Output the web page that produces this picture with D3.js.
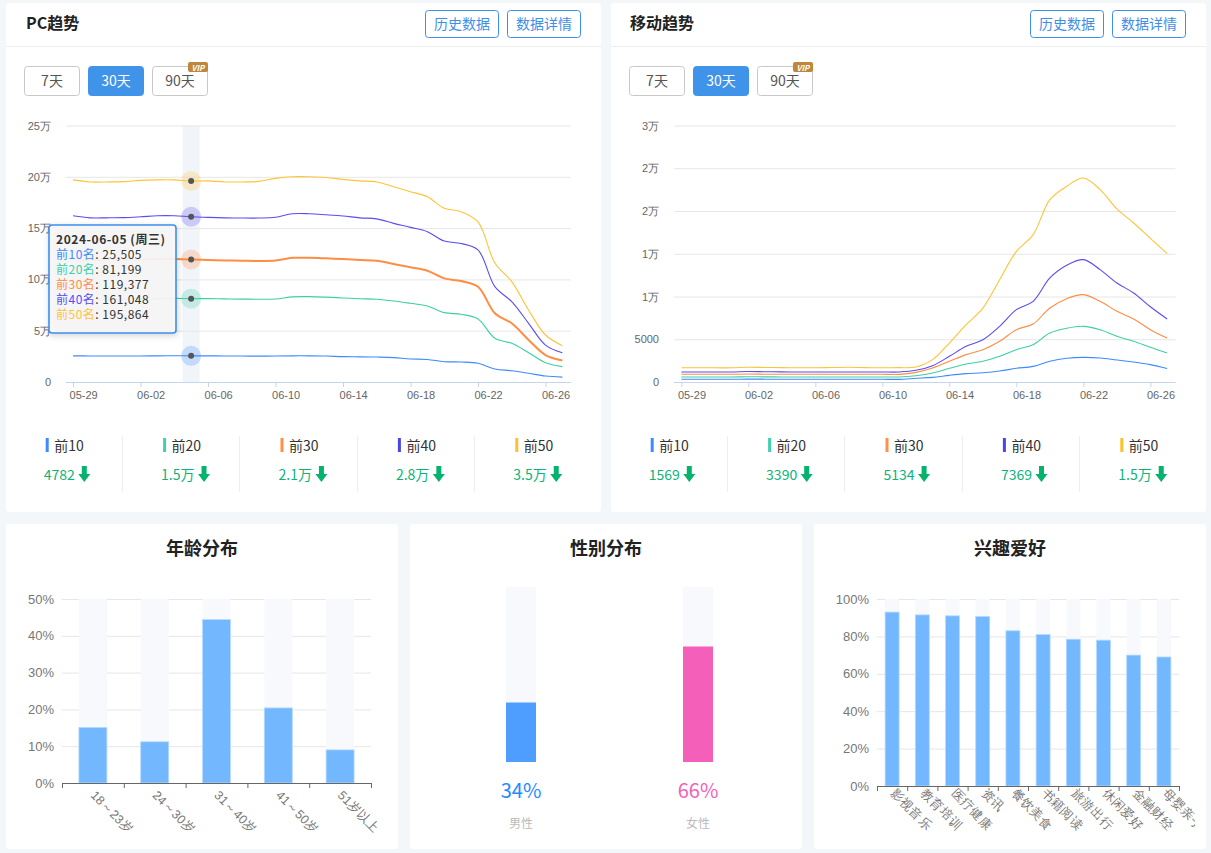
<!DOCTYPE html>
<html>
<head>
<meta charset="utf-8">
<script src="https://cdn.jsdelivr.net/npm/d3@7"></script>
<style>
html, body { margin: 0; padding: 0; background: #f3f7fa; overflow: hidden; }
svg { display: block; font-family: "Noto Sans CJK SC", "Noto Sans", sans-serif; }
text { fill: #333; }
.grid line { stroke: #e6e6e6; }
.grid path { display: none; }
</style>
</head>
<body>
<svg id="page" width="1211" height="853"></svg>
<script>
var svg = d3.select('#page');

var colors = ['#3e8bff', '#3ccfa8', '#ff8d42', '#5a4cf2', '#ffc336'];
var barColors = ['#3e8bff', '#3fd1ad', '#ff9147', '#4a46e8', '#ffc02e'];
var names = ['前10名', '前20名', '前30名', '前40名', '前50名'];
var shortNames = ['前10', '前20', '前30', '前40', '前50'];

var days = d3.timeDay.range(new Date(2024, 4, 29), new Date(2024, 5, 28)).map(d3.timeFormat('%m-%d'));

var pcData = [
  [25500,25400,25300,25300,25400,25500,25600,25505,25500,25400,25300,25200,25300,25500,25500,25300,24700,24500,24300,23800,22400,22000,19800,19500,18200,12700,11000,8500,5800,4782],
  [81500,80800,80700,80800,81000,81300,81500,81199,81300,81000,80800,80700,80900,83000,83200,82700,81900,81200,80600,79000,76700,74100,67600,66000,61400,42600,37700,28600,18800,15000],
  [120000,119000,119000,119200,119500,120000,120000,119377,119000,118500,118200,118000,118500,121000,121000,120500,119900,118900,118200,115000,111800,108500,101000,98400,92900,67000,57200,41000,26300,21000],
  [162000,160000,160000,160200,161000,162000,162000,161048,160500,160000,159800,159800,160500,164000,164000,163000,161800,160000,159000,154600,150700,146500,137400,135000,128700,92900,78300,57200,36000,28500],
  [197000,195000,195000,195300,196500,197000,197000,195864,196000,195000,195000,195500,198500,200000,200000,199300,197500,196000,195000,190300,185500,180600,169300,166000,156000,116000,97800,70000,45800,35400]
];
var mobileData = [
  [320,320,320,320,340,330,320,320,320,320,320,320,320,312,430,545,780,975,1090,1290,1600,1830,2420,2770,2885,2810,2570,2340,2030,1569],
  [590,590,590,590,610,600,590,590,590,590,590,590,590,585,740,1053,1600,2105,2420,3000,3780,4370,5730,6280,6510,6120,5340,4760,4055,3390],
  [900,900,900,900,930,910,900,900,900,900,900,900,900,897,1130,1640,2420,3200,3780,4760,6120,6785,8660,9750,10215,9435,8270,7370,6120,5134],
  [1170,1170,1170,1170,1230,1200,1180,1170,1170,1170,1170,1170,1170,1170,1365,1910,3000,4170,4950,6510,8460,9435,12165,13650,14310,13140,11580,10410,8800,7369],
  [1660,1660,1660,1660,1730,1700,1680,1670,1670,1690,1720,1680,1670,1677,1755,2612,4560,6700,8650,11970,15280,17230,21330,22890,23860,22500,20240,18600,16800,15010]
];
var pcTips = [25505, 81199, 119377, 161048, 195864];

function panel(x, y, w, h) {
  svg.append('rect').attr('x', x).attr('y', y).attr('width', w).attr('height', h)
    .attr('rx', 3).attr('fill', '#fff');
}

function button(x, y, w, h, label, opts) {
  opts = opts || {};
  svg.append('rect').attr('x', x + 0.5).attr('y', y + 0.5).attr('width', w - 1).attr('height', h - 1)
    .attr('rx', 3)
    .attr('fill', opts.fill || '#fff')
    .attr('stroke', opts.stroke || '#c8c8c8');
  svg.append('text').attr('x', x + w / 2).attr('y', y + h / 2 + 5)
    .attr('text-anchor', 'middle').attr('font-size', 14)
    .style('fill', opts.color || '#555').text(label);
}

function trendPanel(ox, title, data, opts) {
  panel(ox, 3, 595, 509);
  svg.append('line').attr('x1', ox).attr('x2', ox + 595).attr('y1', 46.5).attr('y2', 46.5).attr('stroke', '#eeeeee');
  svg.append('text').attr('x', ox + opts.titleDx).attr('y', 29).attr('font-size', 16).attr('font-weight', 'bold').style('fill', '#222').text(title);

  button(ox + 419, 10, 74, 28, '历史数据', {stroke: '#3e8fe8', color: '#3e8fe8'});
  button(ox + 501, 10, 74, 28, '数据详情', {stroke: '#3e8fe8', color: '#3e8fe8'});

  button(ox + 18, 66, 56, 30, '7天');
  button(ox + 82, 66, 56, 30, '30天', {fill: '#3f93e8', stroke: '#3f93e8', color: '#fff'});
  button(ox + 146, 66, 56, 30, '90天');
  svg.append('rect').attr('x', ox + 182).attr('y', 62).attr('width', 20).attr('height', 10).attr('rx', 2).attr('fill', '#c0873a');
  svg.append('text').attr('x', ox + 192).attr('y', 70.5).attr('text-anchor', 'middle')
    .attr('font-size', 8).attr('font-weight', 'bold').attr('font-style', 'italic').style('fill', '#fff').text('VIP');

  var x = d3.scaleBand().domain(days).range(opts.xRange).paddingInner(0).paddingOuter(0);
  var y = d3.scaleLinear().domain([0, opts.yMax]).range([382, 125.5]);
  var cx = function(d) { return x(d) + x.bandwidth() / 2; };

  // highlighted day band sits under the grid
  if (opts.hover !== undefined) {
    svg.append('rect').attr('x', x(days[opts.hover])).attr('y', y(opts.yMax))
      .attr('width', x.bandwidth()).attr('height', y(0) - y(opts.yMax)).attr('fill', '#f1f4f9');
  }

  var grid = svg.append('g').attr('class', 'grid')
    .attr('transform', 'translate(' + opts.gridLeft + ',0)')
    .call(d3.axisLeft(y).tickValues(opts.yTicks).tickSize(-(opts.xRange[1] - opts.gridLeft)).tickPadding(opts.gridLeft - opts.labelRight).tickFormat(opts.yFormat));
  grid.selectAll('text').attr('font-size', 11).style('fill', '#666');

  var ax = svg.append('g').attr('transform', 'translate(0,382)')
    .call(d3.axisBottom(d3.scalePoint().domain(days).range([cx(days[0]), cx(days[29])]))
      .tickValues(days.filter(function(d, i) { return i % 4 == 0; })).tickSize(5).tickPadding(4));
  ax.select('path').remove();
  ax.selectAll('line').attr('stroke', '#c6d4ec');
  ax.selectAll('text').attr('font-size', 11).attr('text-anchor', 'start').attr('dx', -4).style('fill', '#666');
  svg.append('line').attr('x1', opts.gridLeft).attr('x2', opts.xRange[1]).attr('y1', 382.5).attr('y2', 382.5).attr('stroke', '#c6d4ec');

  var line = d3.line()
    .x(function(d, i) { return cx(days[i]); })
    .y(function(d) { return y(d); })
    .curve(d3.curveCatmullRom.alpha(0.5));

  data.forEach(function(series, s) {
    svg.append('path').attr('d', line(series)).attr('fill', 'none')
      .attr('stroke', colors[s]).attr('stroke-width', opts.thick === s ? 2 : 1.1);
  });

  if (opts.hover !== undefined) {
    data.forEach(function(series, s) {
      var px = cx(days[opts.hover]), py = y(series[opts.hover]);
      svg.append('circle').attr('cx', px).attr('cy', py).attr('r', 10).attr('fill', colors[s]).attr('opacity', 0.25);
      svg.append('circle').attr('cx', px).attr('cy', py).attr('r', 3).attr('fill', '#555');
    });
  }

  // summary row under the chart
  var cols = d3.scaleBand().domain(d3.range(5)).range([ox - 1, ox + 586]);
  opts.stats.forEach(function(v, i) {
    var c = cols(i) + cols.bandwidth() / 2;
    if (i > 0) {
      svg.append('line').attr('x1', Math.floor(cols(i)) + 0.5).attr('x2', Math.floor(cols(i)) + 0.5).attr('y1', 436).attr('y2', 492).attr('stroke', '#eeeeee');
    }
    svg.append('rect').attr('x', c - 18).attr('y', 438).attr('width', 3).attr('height', 14).attr('fill', barColors[i]);
    svg.append('text').attr('x', c - 9.5).attr('y', 451).attr('font-size', 14).style('fill', '#333').text(shortNames[i]);
    var t = svg.append('text').attr('x', c - 20).attr('y', 480).attr('font-size', 14).style('fill', '#0db37a').text(v);
    var ex = c - 20 + t.node().getComputedTextLength() + 4;
    svg.append('path').attr('transform', 'translate(' + ex + ',466)')
      .attr('d', 'M3,0H8V8H11.5L5.5,16L-0.5,8H3Z').attr('fill', '#06b36e');
  });
}

trendPanel(6, 'PC趋势', pcData, {
  xRange: [64.6, 570.8], gridLeft: 66, labelRight: 51, yMax: 250000, titleDx: 20,
  yTicks: d3.range(0, 250001, 50000),
  yFormat: function(d) { return d == 0 ? '0' : (d / 10000) + '万'; },
  hover: 7, thick: 2,
  stats: ['4782', '1.5万', '2.1万', '2.8万', '3.5万']
});
trendPanel(611, '移动趋势', mobileData, {
  xRange: [673, 1175.5], gridLeft: 674, labelRight: 659, yMax: 30000, titleDx: 19,
  yTicks: d3.range(0, 30001, 5000),
  yFormat: function(d) { return d < 10000 ? String(d) : Math.floor(d / 10000) + '万'; },
  stats: ['1569', '3390', '5134', '7369', '1.5万']
});

// tooltip over the PC chart
var tip = svg.append('g').attr('transform', 'translate(49,225)');
tip.append('rect').attr('width', 127).attr('height', 108).attr('rx', 3)
  .attr('fill', 'rgba(247,247,247,0.93)').attr('stroke', '#3d8ff0').attr('stroke-width', 1.6)
  .style('filter', 'drop-shadow(1px 2px 3px rgba(0,0,0,0.18))');
tip.append('text').attr('x', 7).attr('y', 19).attr('font-size', 12).attr('font-weight', 'bold')
  .attr('letter-spacing', 0.55).style('fill', '#333').text('2024-06-05 (周三)');
names.forEach(function(n, i) {
  var t = tip.append('text').attr('x', 7).attr('y', 34 + i * 15).attr('font-size', 12).attr('letter-spacing', 0.5);
  t.append('tspan').style('fill', colors[i]).text(n);
  t.append('tspan').style('fill', '#333').text(': ' + d3.format(',')(pcTips[i]));
});

// bottom panels
var barFill = '#73b7ff', barStroke = '#b5dbff', barBack = '#f8f9fd';

function barPanel(ox, title, cats, vals, opts) {
  panel(ox, 524, 392, 325);
  svg.append('text').attr('x', ox + 196).attr('y', 555).attr('text-anchor', 'middle')
    .attr('font-size', 18).attr('font-weight', 'bold').style('fill', '#222').text(title);

  var x = d3.scaleBand().domain(cats).range(opts.xRange);
  var y = d3.scaleLinear().domain([0, opts.yMax]).range(opts.yRange);

  var grid = svg.append('g').attr('class', 'grid').attr('transform', 'translate(' + opts.xRange[0] + ',0)')
    .call(d3.axisLeft(y).tickValues(opts.yTicks).tickSize(-(opts.xRange[1] - opts.xRange[0])).tickPadding(8)
      .tickFormat(function(d) { return d + '%'; }));
  grid.selectAll('line').attr('stroke', '#e6e8f0');
  grid.selectAll('text').attr('font-size', 13).style('fill', '#777');

  var bw = opts.barWidth;
  var bx = function(d) { return x(d) + x.bandwidth() / 2 - bw / 2; };
  svg.selectAll(null).data(cats).enter().append('rect')
    .attr('x', bx).attr('y', y(opts.yMax)).attr('width', bw).attr('height', y(0) - y(opts.yMax)).attr('fill', barBack);
  svg.selectAll(null).data(cats).enter().append('rect')
    .attr('x', bx).attr('y', function(d, i) { return y(vals[i]); })
    .attr('width', bw).attr('height', function(d, i) { return y(0) - y(vals[i]); })
    .attr('fill', barFill).attr('stroke', barStroke).attr('stroke-width', 0.8);

  // ticks fall between the bars, so they get their own axis
  var edges = d3.scaleLinear().domain([0, cats.length]).range(opts.xRange);
  var ax = svg.append('g').attr('transform', 'translate(0,' + y(0) + ')')
    .call(d3.axisBottom(edges).ticks(cats.length).tickValues(d3.range(cats.length + 1)).tickSize(5).tickSizeOuter(5).tickFormat(''));
  ax.selectAll('line').attr('stroke', '#666');
  ax.select('path').attr('stroke', '#666');

  var labels = svg.append('g').attr('clip-path', 'url(#' + opts.clip + ')').append('g').attr('transform', 'translate(0,' + y(0) + ')')
    .call(d3.axisBottom(x).tickSize(0).tickPadding(0));
  labels.select('path').remove();
  labels.selectAll('text').attr('text-anchor', 'start').attr('font-size', 12.5).attr('dy', 0)
    .attr('transform', 'translate(' + opts.labelDx + ',' + opts.labelDy + ') rotate(45)').style('fill', '#777');
}

var defs = svg.append('defs');
defs.append('clipPath').attr('id', 'clipAge').append('rect').attr('x', 6).attr('y', 524).attr('width', 392).attr('height', 325);
defs.append('clipPath').attr('id', 'clipHobby').append('rect').attr('x', 814).attr('y', 524).attr('width', 381).attr('height', 325);

barPanel(6, '年龄分布', ['18～23岁', '24～30岁', '31～40岁', '41～50岁', '51岁以上'], [15.1, 11.2, 44.4, 20.4, 9.0], {
  xRange: [62, 371], yRange: [783, 599], yMax: 50, yTicks: d3.range(0, 51, 10), barWidth: 28,
  labelDx: -3, labelDy: 13, clip: 'clipAge'
});
barPanel(814, '兴趣爱好', ['影视音乐', '教育培训', '医疗健康', '资讯', '餐饮美食', '书籍阅读', '旅游出行', '休闲爱好', '金融财经', '母婴亲子'],
  [93, 91.5, 91, 90.7, 83, 81, 78.5, 78, 70, 69], {
  xRange: [877, 1179], yRange: [786, 599], yMax: 100, yTicks: d3.range(0, 101, 20), barWidth: 14,
  labelDx: -2, labelDy: 8, clip: 'clipHobby'
});

// gender panel
panel(410, 524, 392, 325);
svg.append('text').attr('x', 606).attr('y', 555).attr('text-anchor', 'middle')
  .attr('font-size', 18).attr('font-weight', 'bold').style('fill', '#222').text('性别分布');
var gender = [
  {name: '男性', value: 34, color: '#4d9eff', text: '#1e8cff'},
  {name: '女性', value: 66, color: '#f45fba', text: '#f45fba'}
];
var gx = d3.scaleBand().domain(gender.map(function(d) { return d.name; })).range([432.5, 786.5]);
var gy = d3.scaleLinear().domain([0, 100]).range([762, 587]);
var gw = 30;
var gc = function(d) { return gx(d.name) + gx.bandwidth() / 2; };
var gg = svg.selectAll(null).data(gender).enter().append('g');
gg.append('rect').attr('x', function(d) { return gc(d) - gw / 2; }).attr('y', gy(100)).attr('width', gw).attr('height', gy(0) - gy(100)).attr('fill', barBack);
gg.append('rect').attr('x', function(d) { return gc(d) - gw / 2; }).attr('y', function(d) { return gy(d.value); })
  .attr('width', gw).attr('height', function(d) { return gy(0) - gy(d.value); }).attr('fill', function(d) { return d.color; });
gg.append('text').attr('x', gc).attr('y', 798).attr('text-anchor', 'middle').attr('font-size', 20)
  .style('fill', function(d) { return d.text; }).text(function(d) { return d.value + '%'; });
gg.append('text').attr('x', gc).attr('y', 828).attr('text-anchor', 'middle').attr('font-size', 12)
  .style('fill', '#bbbbbb').text(function(d) { return d.name; });
</script>
</body>
</html>
